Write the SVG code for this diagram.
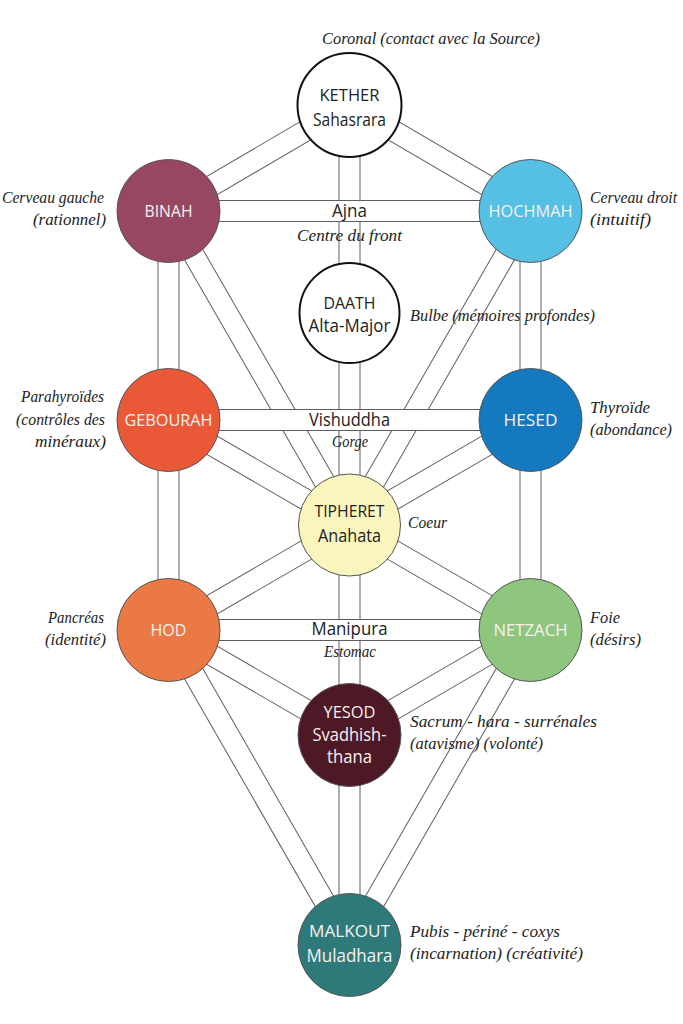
<svg xmlns="http://www.w3.org/2000/svg" width="683" height="1024" viewBox="0 0 683 1024">
<style>
.o{stroke:#5e5e5e;stroke-width:22;stroke-linecap:butt}
.i{stroke:#fff;stroke-width:20;stroke-linecap:butt}
.n{stroke:#555;stroke-width:1}
.w{fill:#fff;stroke:#111;stroke-width:2}
.cap{font-family:"Open Sans","Noto Sans",sans-serif;font-size:16px;text-anchor:middle}
.big{font-family:"Open Sans","Noto Sans",sans-serif;font-size:18px;text-anchor:middle}
.lt{fill:#f6f0f0}
.dk{fill:#222}
.lab{font-family:"Liberation Serif",serif;font-style:italic;font-size:17px;fill:#222}
.e{text-anchor:end}
.m{text-anchor:middle}
</style>
<rect width="683" height="1024" fill="#fff"/>
<g id="connectors">
<g><line class="o" x1="349.5" y1="105" x2="168.5" y2="211"/><line class="i" x1="349.5" y1="105" x2="168.5" y2="211"/></g>
<g><line class="o" x1="349.5" y1="105" x2="530.5" y2="211"/><line class="i" x1="349.5" y1="105" x2="530.5" y2="211"/></g>
<g><line class="o" x1="349.5" y1="105" x2="349.5" y2="525"/><line class="i" x1="349.5" y1="105" x2="349.5" y2="525"/></g>
<g><line class="o" x1="168.5" y1="211" x2="168.5" y2="420"/><line class="i" x1="168.5" y1="211" x2="168.5" y2="420"/></g>
<g><line class="o" x1="168.5" y1="211" x2="349.5" y2="525"/><line class="i" x1="168.5" y1="211" x2="349.5" y2="525"/></g>
<g><line class="o" x1="530.5" y1="211" x2="530.5" y2="420"/><line class="i" x1="530.5" y1="211" x2="530.5" y2="420"/></g>
<g><line class="o" x1="530.5" y1="211" x2="349.5" y2="525"/><line class="i" x1="530.5" y1="211" x2="349.5" y2="525"/></g>
<g><line class="o" x1="168.5" y1="420" x2="349.5" y2="525"/><line class="i" x1="168.5" y1="420" x2="349.5" y2="525"/></g>
<g><line class="o" x1="530.5" y1="420" x2="349.5" y2="525"/><line class="i" x1="530.5" y1="420" x2="349.5" y2="525"/></g>
<g><line class="o" x1="168.5" y1="420" x2="168.5" y2="630"/><line class="i" x1="168.5" y1="420" x2="168.5" y2="630"/></g>
<g><line class="o" x1="530.5" y1="420" x2="530.5" y2="630"/><line class="i" x1="530.5" y1="420" x2="530.5" y2="630"/></g>
<g><line class="o" x1="349.5" y1="525" x2="168.5" y2="630"/><line class="i" x1="349.5" y1="525" x2="168.5" y2="630"/></g>
<g><line class="o" x1="349.5" y1="525" x2="530.5" y2="630"/><line class="i" x1="349.5" y1="525" x2="530.5" y2="630"/></g>
<g><line class="o" x1="349.5" y1="525" x2="349.5" y2="735"/><line class="i" x1="349.5" y1="525" x2="349.5" y2="735"/></g>
<g><line class="o" x1="168.5" y1="630" x2="349.5" y2="735"/><line class="i" x1="168.5" y1="630" x2="349.5" y2="735"/></g>
<g><line class="o" x1="530.5" y1="630" x2="349.5" y2="735"/><line class="i" x1="530.5" y1="630" x2="349.5" y2="735"/></g>
<g><line class="o" x1="168.5" y1="630" x2="349.5" y2="945"/><line class="i" x1="168.5" y1="630" x2="349.5" y2="945"/></g>
<g><line class="o" x1="530.5" y1="630" x2="349.5" y2="945"/><line class="i" x1="530.5" y1="630" x2="349.5" y2="945"/></g>
<g><line class="o" x1="349.5" y1="735" x2="349.5" y2="945"/><line class="i" x1="349.5" y1="735" x2="349.5" y2="945"/></g>
<g><line class="o" x1="168.5" y1="211" x2="530.5" y2="211"/><line class="i" x1="168.5" y1="211" x2="530.5" y2="211"/></g>
<g><line class="o" x1="168.5" y1="420" x2="530.5" y2="420"/><line class="i" x1="168.5" y1="420" x2="530.5" y2="420"/></g>
<g><line class="o" x1="168.5" y1="630" x2="530.5" y2="630"/><line class="i" x1="168.5" y1="630" x2="530.5" y2="630"/></g>
</g>
<g id="path-labels">
<text class="big dk" x="349.5" y="217" textLength="35" lengthAdjust="spacingAndGlyphs">Ajna</text>
<text class="big dk" x="349.5" y="426" textLength="81" lengthAdjust="spacingAndGlyphs">Vishuddha</text>
<text class="big dk" x="349.5" y="635" textLength="76" lengthAdjust="spacingAndGlyphs">Manipura</text>
<text class="lab m" x="349.5" y="241" textLength="105" lengthAdjust="spacingAndGlyphs">Centre du front</text>
<text class="lab m" x="350" y="447" textLength="36" lengthAdjust="spacingAndGlyphs">Gorge</text>
<text class="lab m" x="350" y="657" textLength="52" lengthAdjust="spacingAndGlyphs">Estomac</text>
</g>
<g id="kether">
<circle class="w" cx="349.5" cy="105" r="52"/>
<text class="cap dk" x="349.5" y="101" textLength="60" lengthAdjust="spacingAndGlyphs">KETHER</text>
<text class="big dk" x="349.5" y="126" textLength="73" lengthAdjust="spacingAndGlyphs">Sahasrara</text>
</g>
<g id="binah">
<circle class="n" cx="168.5" cy="211" r="51.5" fill="#974860"/>
<text class="cap lt" x="168.5" y="217" textLength="48" lengthAdjust="spacingAndGlyphs">BINAH</text>
</g>
<g id="hochmah">
<circle class="n" cx="530.5" cy="211" r="51.5" fill="#55c0e3"/>
<text class="cap lt" x="530.5" y="217" textLength="84" lengthAdjust="spacingAndGlyphs">HOCHMAH</text>
</g>
<g id="daath">
<circle class="w" cx="349.5" cy="313" r="50"/>
<text class="cap dk" x="349.5" y="309" textLength="52" lengthAdjust="spacingAndGlyphs">DAATH</text>
<text class="big dk" x="349.5" y="332" textLength="82" lengthAdjust="spacingAndGlyphs">Alta-Major</text>
</g>
<g id="gebourah">
<circle class="n" cx="168.5" cy="420" r="51.5" fill="#e95937"/>
<text class="cap lt" x="168.5" y="426" textLength="88" lengthAdjust="spacingAndGlyphs">GEBOURAH</text>
</g>
<g id="hesed">
<circle class="n" cx="530.5" cy="420" r="51.5" fill="#1479bf"/>
<text class="cap lt" x="530.5" y="426" textLength="54" lengthAdjust="spacingAndGlyphs">HESED</text>
</g>
<g id="tipheret">
<circle class="n" cx="349.5" cy="525" r="51" fill="#f9f5bd"/>
<text class="cap dk" x="349.5" y="517" textLength="70" lengthAdjust="spacingAndGlyphs">TIPHERET</text>
<text class="big dk" x="349.5" y="542" textLength="63" lengthAdjust="spacingAndGlyphs">Anahata</text>
</g>
<g id="hod">
<circle class="n" cx="168.5" cy="630" r="51.5" fill="#ea7945"/>
<text class="cap lt" x="168.5" y="636" textLength="36" lengthAdjust="spacingAndGlyphs">HOD</text>
</g>
<g id="netzach">
<circle class="n" cx="530.5" cy="630" r="51.5" fill="#8fc67e"/>
<text class="cap lt" x="530.5" y="636" textLength="74" lengthAdjust="spacingAndGlyphs">NETZACH</text>
</g>
<g id="yesod">
<circle class="n" cx="349.5" cy="735" r="51.5" fill="#4e1825"/>
<text class="cap lt" x="349.5" y="718" textLength="52" lengthAdjust="spacingAndGlyphs">YESOD</text>
<text class="big lt" x="349.5" y="741" textLength="74" lengthAdjust="spacingAndGlyphs">Svadhish-</text>
<text class="big lt" x="349.5" y="763" textLength="45" lengthAdjust="spacingAndGlyphs">thana</text>
</g>
<g id="malkout">
<circle class="n" cx="349.5" cy="945" r="51.5" fill="#2e7a7b"/>
<text class="cap lt" x="349.5" y="937" textLength="81" lengthAdjust="spacingAndGlyphs">MALKOUT</text>
<text class="big lt" x="349.5" y="962" textLength="86" lengthAdjust="spacingAndGlyphs">Muladhara</text>
</g>
<g id="annotations">
<text class="lab" x="322" y="44" textLength="218" lengthAdjust="spacingAndGlyphs">Coronal (contact avec la Source)</text>
<text class="lab e" x="104" y="203" textLength="102" lengthAdjust="spacingAndGlyphs">Cerveau gauche</text>
<text class="lab e" x="106" y="225" textLength="73" lengthAdjust="spacingAndGlyphs">(rationnel)</text>
<text class="lab" x="590" y="203" textLength="87" lengthAdjust="spacingAndGlyphs">Cerveau droit</text>
<text class="lab" x="590" y="225" textLength="61" lengthAdjust="spacingAndGlyphs">(intuitif)</text>
<text class="lab" x="410" y="321" textLength="185" lengthAdjust="spacingAndGlyphs">Bulbe (mémoires profondes)</text>
<text class="lab e" x="104" y="402" textLength="83" lengthAdjust="spacingAndGlyphs">Parahyroïdes</text>
<text class="lab e" x="105" y="425" textLength="89" lengthAdjust="spacingAndGlyphs">(contrôles des</text>
<text class="lab e" x="106" y="447" textLength="71" lengthAdjust="spacingAndGlyphs">minéraux)</text>
<text class="lab" x="590" y="413" textLength="60" lengthAdjust="spacingAndGlyphs">Thyroïde</text>
<text class="lab" x="590" y="435" textLength="82" lengthAdjust="spacingAndGlyphs">(abondance)</text>
<text class="lab" x="408" y="528" textLength="39" lengthAdjust="spacingAndGlyphs">Coeur</text>
<text class="lab e" x="104" y="623" textLength="56" lengthAdjust="spacingAndGlyphs">Pancréas</text>
<text class="lab e" x="106" y="645" textLength="61" lengthAdjust="spacingAndGlyphs">(identité)</text>
<text class="lab" x="590" y="623" textLength="30" lengthAdjust="spacingAndGlyphs">Foie</text>
<text class="lab" x="590" y="645" textLength="51" lengthAdjust="spacingAndGlyphs">(désirs)</text>
<text class="lab" x="410" y="727" textLength="187" lengthAdjust="spacingAndGlyphs">Sacrum - hara - surrénales</text>
<text class="lab" x="410" y="749" textLength="133" lengthAdjust="spacingAndGlyphs">(atavisme) (volonté)</text>
<text class="lab" x="410" y="937" textLength="150" lengthAdjust="spacingAndGlyphs">Pubis - périné - coxys</text>
<text class="lab" x="410" y="959" textLength="173" lengthAdjust="spacingAndGlyphs">(incarnation) (créativité)</text>
</g>
</svg>
